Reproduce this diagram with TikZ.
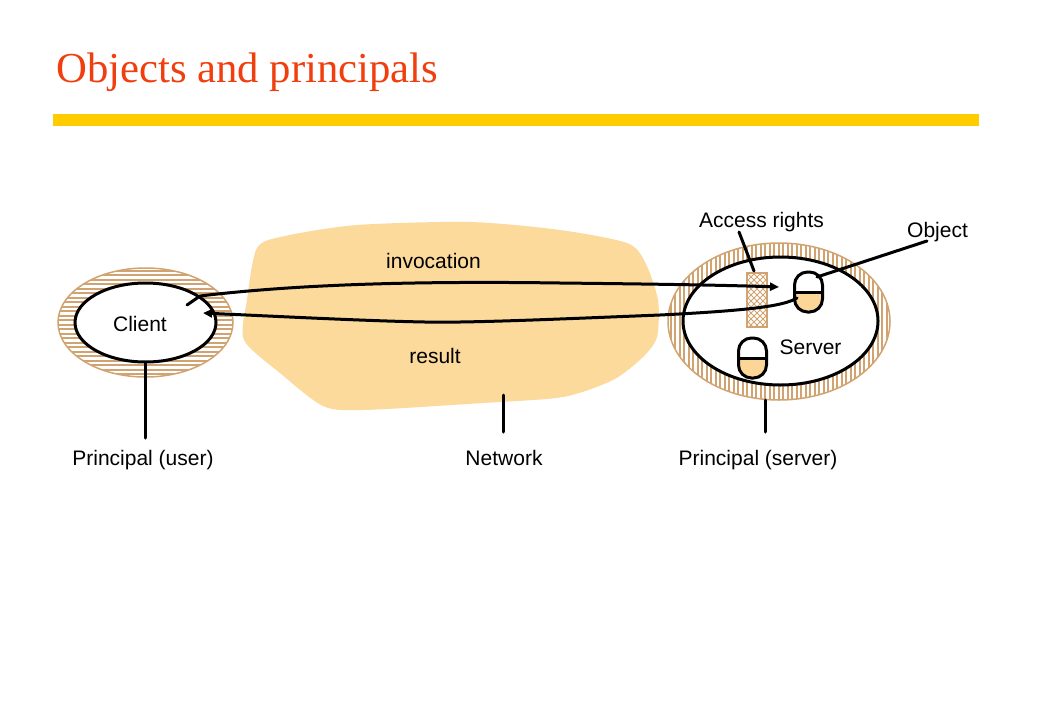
\documentclass[tikz,border=0pt]{standalone}
\usepackage{fontspec}
\setmainfont{Liberation Sans}
\newfontfamily\titlefont{Liberation Serif}
\usetikzlibrary{arrows.meta}
\definecolor{titlered}{RGB}{240,62,14}
\definecolor{baryellow}{RGB}{255,204,0}
\definecolor{netfill}{RGB}{252,218,156}
\definecolor{ringtan}{RGB}{208,163,112}
\definecolor{capfill}{RGB}{251,214,150}
\begin{document}
\begin{tikzpicture}[x=1pt,y=-1pt,
  lbl/.style={font=\fontsize{21}{25}\selectfont, inner sep=0pt, anchor=base},
  blk/.style={line width=3pt, black},
  conn/.style={line width=3pt, black, line cap=round},
  arr/.style={conn, -{Triangle[length=9pt,width=8pt]}},
  stripe/.style={ringtan, line width=2pt},
  hatch/.style={ringtan, line width=0.8pt},
  capsule/.pic={
    \begin{scope}
      \clip[rounded corners=13pt] (-14,-20) rectangle (14,20);
      \fill[capfill] (-14,0) rectangle (14,20);
    \end{scope}
    \draw[blk, rounded corners=13pt] (-14,-20) rectangle (14,20);
    \draw[blk] (-14,0) -- (14,0);
  }]
\useasboundingbox (0,0) rectangle (1040,720);
\fill[white] (0,0) rectangle (1040,720);

% title and bar
\node[anchor=base west, text=titlered, font=\titlefont\fontsize{42.7}{50}\selectfont, inner sep=0pt] (title) at (56,82) {Objects and principals};
\fill[baryellow] (53,114) rectangle (979,126);

% network blob
\fill[netfill] plot[smooth cycle, tension=0.45] coordinates {
  (257,248) (285,236) (357,225) (470,222) (560,230) (627,243) (645,262)
  (658,300) (657,337) (643,357) (613,380) (563,397) (483,403) (363,410)
  (323,406) (280,373) (244,340) (247,300)};

% client
\begin{scope}
  \clip (145.5,322.5) ellipse [x radius=87.5pt, y radius=54.5pt];
  \foreach \y in {266,270.5,...,382} \draw[stripe] (50,\y) -- (240,\y);
\end{scope}
\draw[ringtan, line width=1.5pt] (145.5,322.5) ellipse [x radius=87.5pt, y radius=54.5pt];
\fill[white] (145.5,322.5) ellipse [x radius=70.5pt, y radius=39.5pt];
\draw[blk] (145.5,322.5) ellipse [x radius=70.5pt, y radius=39.5pt];
\node[lbl] (client) at (140,331) {Client};

% server
\begin{scope}
  \clip (779,321.5) ellipse [x radius=111pt, y radius=78.5pt];
  \foreach \x in {666,670.5,...,894} \draw[stripe] (\x,240) -- (\x,404);
\end{scope}
\draw[ringtan, line width=1.5pt] (779,321.5) ellipse [x radius=111pt, y radius=78.5pt];
\fill[white] (780.5,321) ellipse [x radius=97.5pt, y radius=64pt];
\draw[blk] (780.5,321) ellipse [x radius=97.5pt, y radius=64pt];
\node[lbl] (server) at (810.5,354) {Server};

% access rights box
\begin{scope}
  \clip (747,273) rectangle (767,327);
  \foreach \d in {-60,-54,...,60} {
    \draw[hatch] (747+\d,273) -- (807+\d,333);
    \draw[hatch] (767+\d,273) -- (707+\d,333);
  }
\end{scope}
\draw[ringtan, line width=2pt] (747,273) rectangle (767,327) node[pos=0.5, inner sep=0pt] (acc) {};

% objects
\pic (obj1) at (808.5,292) {capsule};
\pic (obj2) at (752.5,358) {capsule};

% labels
\node[lbl] (acclbl) at (761.5,227) {Access rights};
\node[lbl] (objlbl) at (937.5,237) {Object};
\node[lbl] (invlbl) at (433.5,268) {invocation};
\node[lbl] (reslbl) at (435,363) {result};
\node[lbl] (puser) at (143,465) {Principal (user)};
\node[lbl] (netlbl) at (504,465) {Network};
\node[lbl] (pserver) at (758,465) {Principal (server)};

% connector end points
\coordinate (invS) at (187,305);
\coordinate (invE) at (779,287);
\coordinate (resS) at (797,298);
\coordinate (resE) at (203,313);
\coordinate (accA) at (739,232);
\coordinate (accB) at (754,271);
\coordinate (objA) at (817,277);
\coordinate (objB) at (927,241);
\coordinate (cliB) at (145,362);
\coordinate (cliE) at (145,438);
\coordinate (netB) at (503,395);
\coordinate (netE) at (503,432);
\coordinate (srvB) at (765,400);
\coordinate (srvE) at (765,432);

% connectors
\draw[arr] (invS) -- (200,296) .. controls (300,284) and (420,281) .. (560,283) .. controls (650,284) and (720,285) .. (invE);
\draw[arr] (resS) .. controls (785,305) and (760,310) .. (660,315) .. controls (560,319) and (470,323) .. (425,322) .. controls (370,321) and (290,317) .. (resE);
\draw[conn] (accA) -- (accB);
\draw[conn] (objA) -- (objB);
\draw[conn] (cliB) -- (cliE);
\draw[conn] (netB) -- (netE);
\draw[conn] (srvB) -- (srvE);
\end{tikzpicture}
\end{document}
